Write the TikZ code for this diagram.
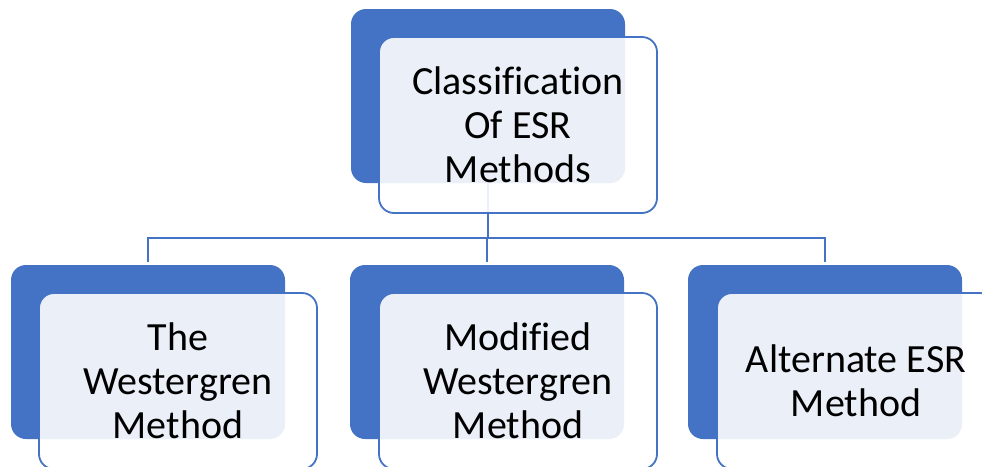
\documentclass[tikz,border=0pt]{standalone}
\usepackage{fontspec}
\setmainfont{Carlito}[Ligatures=NoCommon]
\definecolor{accblue}{HTML}{4472C4}
\begin{document}
\begin{tikzpicture}[x=1pt,y=-1pt,
  backbox/.style={rectangle, rounded corners=15pt, fill=accblue, draw=none,
    minimum width=274pt, minimum height=174pt, inner sep=0pt},
  frontbox/.style={rectangle, rounded corners=15pt, draw=accblue, line width=1.8pt,
    fill=white, fill opacity=0.89, text opacity=1,
    minimum width=278pt, minimum height=176pt, inner sep=0pt, align=center,
    font=\fontsize{40}{44}\selectfont},
  link/.style={draw=accblue, line width=2pt}]
\useasboundingbox (0,0) rectangle (982,466);
\node[backbox] (tb) at (488,96) {};
\node[backbox] (lb) at (148,352) {};
\node[backbox] (mb) at (487,352) {};
\node[backbox] (rb) at (825,352) {};
\coordinate (bar) at (0,237.5);
\draw[link] (tb.south) -- (tb.south |- bar);
\draw[link] (lb.north) ++(0,-3) -- (lb.north |- bar) -- (rb.north |- bar) -- ([yshift=3pt]rb.north);
\draw[link] ([yshift=3pt]mb.north) -- (mb.north |- bar);
\node[frontbox] (tf) at (518,125) {Classification\\Of ESR\\Methods};
\node[frontbox] (lf) at (178,381) {The\\Westergren\\Method};
\node[frontbox] (mf) at (518,381) {Modified\\Westergren\\Method};
\node[frontbox] (rf) at (856,381) {Alternate ESR\\Method};
\end{tikzpicture}
\end{document}
